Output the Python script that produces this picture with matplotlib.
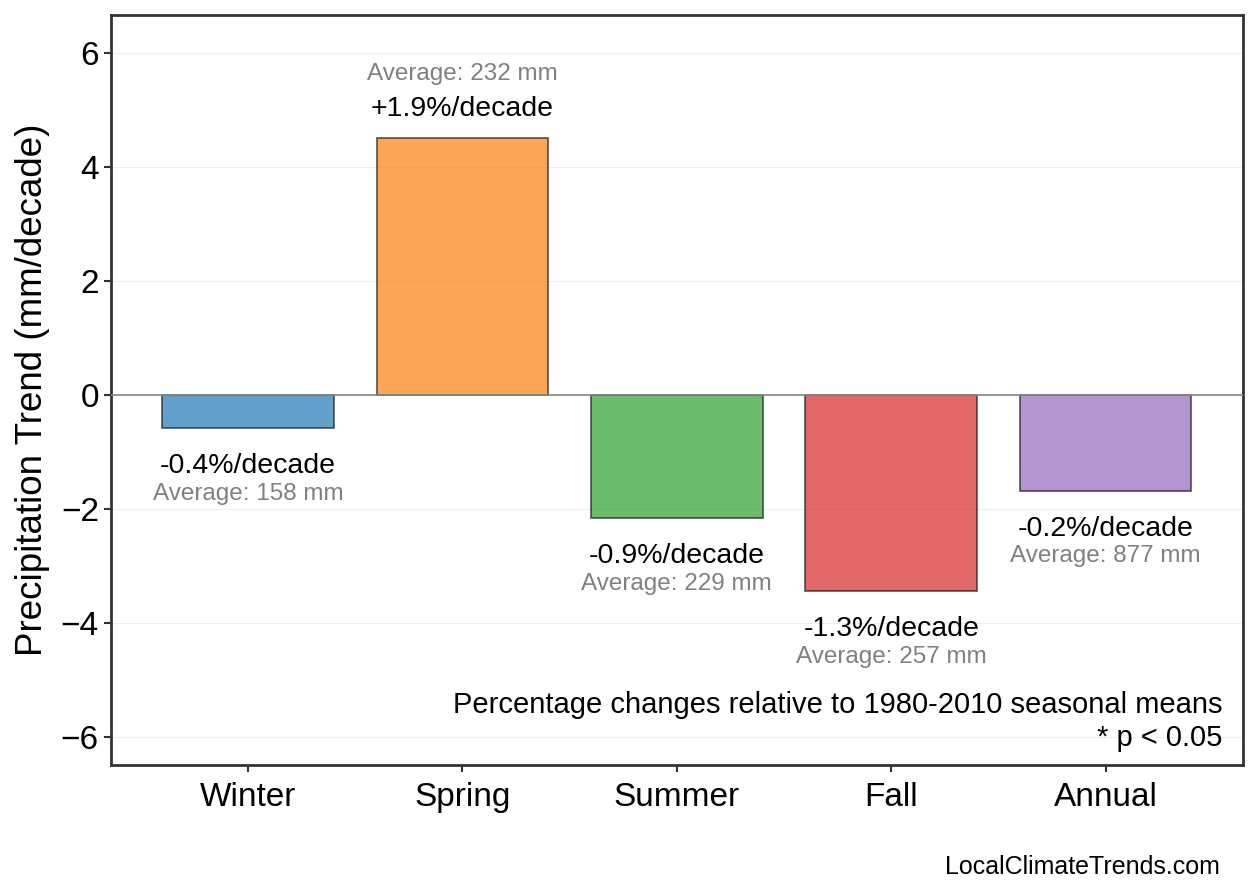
import matplotlib.pyplot as plt
import numpy as np

plt.rcParams['font.family'] = ['Liberation Sans', 'DejaVu Sans']

seasons = ['Winter', 'Spring', 'Summer', 'Fall', 'Annual']
trends = [-0.58, 4.52, -2.16, -3.44, -1.68]
pct_labels = ['-0.4%/decade', '+1.9%/decade', '-0.9%/decade', '-1.3%/decade', '-0.2%/decade']
averages = [158, 232, 229, 257, 877]
colors = ['#1f77b4', '#ff7f0e', '#2ca02c', '#d62728', '#9467bd']

fig, ax = plt.subplots(figsize=(12.58, 8.93), dpi=100)
fig.subplots_adjust(left=0.088, right=0.988, top=0.983, bottom=0.143)

x = np.arange(len(seasons))
ax.bar(x, trends, width=0.8, color=colors, alpha=0.7, edgecolor='#222222', linewidth=1.3, zorder=3)
ax.axhline(0, color='#888888', linewidth=1.2, zorder=4)

# labels above positive bars, below negative ones
for xi, val, lab, avg in zip(x, trends, pct_labels, averages):
    if val >= 0:
        off_trend, off_avg = 21, 46
    else:
        off_trend, off_avg = -27, -47
    ax.annotate(lab, (xi, val), xytext=(0, off_trend), textcoords='offset points',
                ha='center', va='center', fontsize=20.5, color='black')
    ax.annotate(f'Average: {avg} mm', (xi, val), xytext=(0, off_avg), textcoords='offset points',
                ha='center', va='center', fontsize=17.5, color='#808080')

ax.set_xlim(-0.64, 4.64)
ax.set_ylim(-6.49, 6.67)
ax.set_yticks([-6, -4, -2, 0, 2, 4, 6])
ax.set_xticks(x)
ax.set_xticklabels(seasons)
ax.tick_params(axis='both', labelsize=24, width=1.5, length=5, color='#333333')
ax.tick_params(axis='x', pad=7)
ax.set_ylabel('Precipitation Trend (mm/decade)', fontsize=26.5, labelpad=8)
ax.yaxis.grid(True, color='#eeeeee', linewidth=0.8, zorder=0)
ax.set_axisbelow(True)
for sp in ax.spines.values():
    sp.set_color('#333333')
    sp.set_linewidth(2)

ax.text(0.982, 0.018, 'Percentage changes relative to 1980-2010 seasonal means\n* p < 0.05',
        transform=ax.transAxes, ha='right', va='bottom', fontsize=21, linespacing=1.2)
fig.text(0.970, 0.016, 'LocalClimateTrends.com', ha='right', va='bottom', fontsize=18)

fig.savefig('out.png', dpi=100)
